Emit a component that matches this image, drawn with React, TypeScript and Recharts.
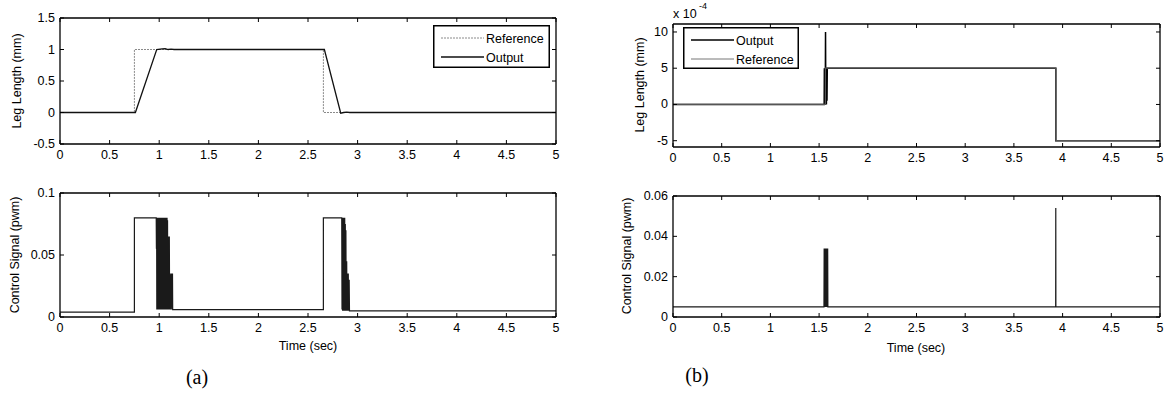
import React from 'react';
import { LineChart, Line, XAxis, YAxis, Legend } from 'recharts';

const FONT = '"Liberation Sans", Arial, Helvetica, sans-serif';
const SERIF = '"Liberation Serif", "Times New Roman", serif';

// ---------- tick labels ----------
const timeTicks = [0, 0.5, 1, 1.5, 2, 2.5, 3, 3.5, 4, 4.5, 5];
const legTicksA = [-0.5, 0, 0.5, 1, 1.5];
const ctrlTicksA = [0, 0.05, 0.1];
const legTicksB = [-5e-4, 0, 5e-4, 10e-4];
const ctrlTicksB = [0, 0.02, 0.04, 0.06];

type P = { t: number; y: number };
const pts = (a: number[][]): P[] => a.map(([t, y]) => ({ t, y }));

// ---------- (a) leg length ----------
const referenceA = pts([
  [0, 0], [0.75, 0], [0.75, 1], [2.655, 1], [2.655, 0], [5, 0],
]);
const outputA = pts([
  [0, 0], [0.76, 0], [0.975, 1], [1.03, 1.01], [1.06, 1.015], [1.09, 1.0],
  [1.12, 1.005], [1.15, 1], [2.665, 1], [2.83, -0.01], [2.86, 0], [2.89, 0.005],
  [2.92, 0], [5, 0],
]);

// ---------- (a) control signal ----------
const controlA = pts([
  [0, 0.004], [0.75, 0.004], [0.75, 0.08], [0.97, 0.08],
  [0.972, 0.055], [0.974, 0.08], [0.976, 0.006], [0.979, 0.08], [0.981, 0.006],
  [0.984, 0.08], [0.986, 0.006], [0.989, 0.08], [0.991, 0.03], [0.994, 0.08],
  [0.996, 0.006], [0.999, 0.08], [1.001, 0.006], [1.004, 0.08], [1.006, 0.006],
  [1.009, 0.08], [1.011, 0.006], [1.014, 0.08], [1.016, 0.006], [1.019, 0.08],
  [1.021, 0.006], [1.024, 0.08], [1.026, 0.006], [1.029, 0.08], [1.031, 0.006],
  [1.034, 0.08], [1.036, 0.006], [1.039, 0.08], [1.041, 0.006], [1.044, 0.08],
  [1.046, 0.006], [1.049, 0.08], [1.051, 0.006], [1.054, 0.08], [1.056, 0.006],
  [1.059, 0.08], [1.061, 0.006], [1.064, 0.08], [1.066, 0.006], [1.069, 0.08],
  [1.071, 0.02], [1.074, 0.08], [1.076, 0.006], [1.079, 0.08], [1.081, 0.025],
  [1.084, 0.078], [1.086, 0.006], [1.089, 0.065], [1.091, 0.006], [1.094, 0.065],
  [1.097, 0.006], [1.102, 0.065], [1.105, 0.006], [1.112, 0.035], [1.115, 0.006],
  [1.125, 0.035], [1.128, 0.006], [1.134, 0.035], [1.136, 0.006],
  [2.655, 0.006], [2.655, 0.08], [2.84, 0.08],
  [2.843, 0.006], [2.846, 0.08], [2.849, 0.005], [2.852, 0.08], [2.855, 0.005],
  [2.858, 0.08], [2.861, 0.005], [2.864, 0.08], [2.867, 0.005], [2.87, 0.08],
  [2.873, 0.005], [2.876, 0.075], [2.879, 0.005], [2.882, 0.07], [2.885, 0.005],
  [2.89, 0.045], [2.893, 0.005], [2.898, 0.035], [2.901, 0.005], [2.906, 0.035],
  [2.909, 0.005], [2.915, 0.03], [2.918, 0.005], [5, 0.005],
]);

// ---------- (b) leg length ----------
const outputB = pts([
  [0, 0], [1.552, 0], [1.554, 5e-4], [1.557, 0], [1.56, 5e-4], [1.563, 0],
  [1.566, 10e-4], [1.569, 0], [1.572, 5e-4], [1.575, 0], [1.578, 5e-4],
  [1.581, 0.5e-4], [1.584, 5e-4], [3.93, 5e-4], [3.93, -5e-4], [5, -5e-4],
]);
const referenceB = pts([
  [0, 0], [1.565, 0], [1.565, 5e-4], [3.93, 5e-4], [3.93, -5e-4], [5, -5e-4],
]);

// ---------- (b) control signal ----------
const controlB = pts([
  [0, 0.005], [1.55, 0.005], [1.552, 0.034], [1.554, 0.005], [1.556, 0.034],
  [1.558, 0.005], [1.56, 0.034], [1.562, 0.005], [1.564, 0.034], [1.566, 0.005],
  [1.568, 0.034], [1.57, 0.005], [1.572, 0.034], [1.574, 0.005], [1.576, 0.034],
  [1.578, 0.005], [1.58, 0.034], [1.582, 0.005], [1.584, 0.034], [1.586, 0.005],
  [1.588, 0.034], [1.59, 0.005], [3.929, 0.005], [3.93, 0.054], [3.931, 0.005],
  [5, 0.005],
]);

// ---------- helpers ----------
const TL = 4; // inward tick length
const FS = 12.5;

const fmtPlain = (v: number) => String(Math.round(v * 1000) / 1000);
const fmtE4 = (v: number) => String(Math.round(v * 1e4));

const BottomTick = (fmt: (v: number) => string) => (props: any) => {
  const { x, y, payload } = props;
  return (
    <g>
      <line x1={x} x2={x} y1={y} y2={y - TL} stroke="#000" strokeWidth={1} />
      <text x={x} y={y + 15} textAnchor="middle" fontSize={FS} fontFamily={FONT} fill="#000">
        {fmt(payload.value)}
      </text>
    </g>
  );
};
const TopTick = (props: any) => {
  const { x, y } = props;
  return <line x1={x} x2={x} y1={y} y2={y + TL} stroke="#000" strokeWidth={1} />;
};
const LeftTick = (fmt: (v: number) => string) => (props: any) => {
  const { x, y, payload } = props;
  return (
    <g>
      <line x1={x} x2={x + TL} y1={y} y2={y} stroke="#000" strokeWidth={1} />
      <text x={x - 5} y={y + 4} textAnchor="end" fontSize={FS} fontFamily={FONT} fill="#000">
        {fmt(payload.value)}
      </text>
    </g>
  );
};
const RightTick = (props: any) => {
  const { x, y } = props;
  return <line x1={x} x2={x - TL} y1={y} y2={y} stroke="#000" strokeWidth={1} />;
};

type Series = { name: string; data: P[]; stroke: string; width: number; dash?: string };
type LegendItem = { name: string; stroke: string; width: number; dash?: string };

type PanelProps = {
  L: number; T: number; W: number; H: number;
  px1: number; py1: number; px2: number; py2: number;
  yDomain: [number, number];
  yTicks: number[];
  yFmt: (v: number) => string;
  series: Series[];
  legend?: { x: number; y: number; w: number; h: number; items: LegendItem[] };
};

const axisLine = { stroke: '#000', strokeWidth: 1.3 };

function LegendBox({ w, h, items }: { w: number; h: number; items: LegendItem[] }) {
  return (
    <svg width={w} height={h} style={{ display: 'block' }}>
      <rect x={0.75} y={0.75} width={w - 1.5} height={h - 1.5} fill="#fff" stroke="#000" strokeWidth={1.5} />
      {items.map((it, i) => {
        const yy = 13 + i * 19;
        return (
          <g key={it.name}>
            <line x1={8} x2={51} y1={yy} y2={yy} stroke={it.stroke} strokeWidth={it.width} strokeDasharray={it.dash} />
            <text x={53} y={yy + 4.5} fontSize={FS} fontFamily={FONT} fill="#000">{it.name}</text>
          </g>
        );
      })}
    </svg>
  );
}

function Panel(p: PanelProps) {
  // top x-axis occupies 1px above the plot, right y-axis 1px to its right
  const margin = { top: p.py1 - p.T - 1, left: 0, right: p.L + p.W - p.px2 - 1, bottom: 0 };
  const yW = p.px1 - p.L;
  const xH = p.T + p.H - p.py2;
  return (
    <div style={{ position: 'absolute', left: p.L, top: p.T, width: p.W, height: p.H }}>
      <LineChart width={p.W} height={p.H} margin={margin}>
        <XAxis
          xAxisId="b" dataKey="t" type="number" domain={[0, 5]} ticks={timeTicks}
          allowDataOverflow interval={0} height={xH} orientation="bottom"
          tickLine={false} tickSize={0} tickMargin={0} axisLine={axisLine}
          tick={BottomTick(fmtPlain)}
        />
        <XAxis
          xAxisId="t" dataKey="t" type="number" domain={[0, 5]} ticks={timeTicks}
          allowDataOverflow interval={0} height={1} orientation="top"
          tickLine={false} tickSize={0} tickMargin={0} axisLine={axisLine}
          tick={TopTick}
        />
        <YAxis
          yAxisId="l" type="number" domain={p.yDomain} ticks={p.yTicks}
          allowDataOverflow interval={0} width={yW} orientation="left"
          tickLine={false} tickSize={0} tickMargin={0} axisLine={axisLine}
          tick={LeftTick(p.yFmt)}
        />
        <YAxis
          yAxisId="r" type="number" domain={p.yDomain} ticks={p.yTicks}
          allowDataOverflow interval={0} width={1} orientation="right"
          tickLine={false} tickSize={0} tickMargin={0} axisLine={axisLine}
          tick={RightTick}
        />
        {p.series.map((s) => (
          <Line
            key={s.name}
            xAxisId="b" yAxisId="l"
            data={s.data} dataKey="y" name={s.name} type="linear"
            stroke={s.stroke} strokeWidth={s.width} strokeDasharray={s.dash}
            dot={false} activeDot={false} isAnimationActive={false}
          />
        ))}
        {p.legend && (
          <Legend
            layout="horizontal" verticalAlign="middle" align="center"
            wrapperStyle={{ position: 'absolute', left: p.legend.x - p.L, top: p.legend.y - p.T, width: p.legend.w, height: p.legend.h, margin: 0, padding: 0 }}
            content={() => <LegendBox w={p.legend!.w} h={p.legend!.h} items={p.legend!.items} />}
          />
        )}
      </LineChart>
    </div>
  );
}

const REF_STYLE = { stroke: '#8a8a8a', width: 1, dash: '2 1' };
const OUT_STYLE = { stroke: '#111', width: 1.3 };

export default function App() {
  const txt = { fontFamily: FONT, fontSize: FS, fill: '#000' } as const;
  return (
    <div style={{ position: 'absolute', left: 0, top: 0, width: 1164, height: 396, background: '#fff', overflow: 'hidden' }}>
      <Panel
        L={0} T={0} W={580} H={175} px1={60} py1={18} px2={556} py2={144}
        yDomain={[-0.5, 1.5]} yTicks={legTicksA} yFmt={fmtPlain}
        series={[
          { name: 'Reference', data: referenceA, ...REF_STYLE },
          { name: 'Output', data: outputA, ...OUT_STYLE },
        ]}
        legend={{ x: 433, y: 25, w: 117, h: 43, items: [
          { name: 'Reference', ...REF_STYLE },
          { name: 'Output', ...OUT_STYLE },
        ] }}
      />
      <Panel
        L={0} T={175} W={580} H={221} px1={60} py1={193} px2={556} py2={317}
        yDomain={[0, 0.1]} yTicks={ctrlTicksA} yFmt={fmtPlain}
        series={[{ name: 'Control', data: controlA, stroke: '#1a1a1a', width: 1.2 }]}
      />
      <Panel
        L={600} T={0} W={564} H={175} px1={673} py1={24} px2={1160} py2={147}
        yDomain={[-5.87e-4, 11.1e-4]} yTicks={legTicksB} yFmt={fmtE4}
        series={[
          { name: 'Output', data: outputB, stroke: '#000', width: 1.5 },
          { name: 'Reference', data: referenceB, stroke: '#555', width: 1.2 },
        ]}
        legend={{ x: 683, y: 27, w: 116, h: 42, items: [
          { name: 'Output', stroke: '#000', width: 1.5 },
          { name: 'Reference', stroke: '#777', width: 1 },
        ] }}
      />
      <Panel
        L={600} T={175} W={564} H={221} px1={673} py1={196} px2={1160} py2={317}
        yDomain={[0, 0.06]} yTicks={ctrlTicksB} yFmt={fmtPlain}
        series={[{ name: 'Control', data: controlB, stroke: '#1a1a1a', width: 1.2 }]}
      />
      <svg width={1164} height={396} style={{ position: 'absolute', left: 0, top: 0, pointerEvents: 'none' }}>
        <text {...txt} textAnchor="middle" dominantBaseline="central" transform="translate(17,81) rotate(-90)">Leg Length (mm)</text>
        <text {...txt} textAnchor="middle" dominantBaseline="central" transform="translate(15,255) rotate(-90)">Control Signal (pwm)</text>
        <text {...txt} textAnchor="middle" x={308} y={350}>Time (sec)</text>
        <text x={197} y={384} textAnchor="middle" fontFamily={SERIF} fontSize={20} fill="#000">(a)</text>

        <text {...txt} textAnchor="middle" dominantBaseline="central" transform="translate(640,85) rotate(-90)">Leg Length (mm)</text>
        <text {...txt} textAnchor="middle" dominantBaseline="central" transform="translate(627,256) rotate(-90)">Control Signal (pwm)</text>
        <text {...txt} textAnchor="middle" x={916} y={352}>Time (sec)</text>
        <text x={697} y={382} textAnchor="middle" fontFamily={SERIF} fontSize={20} fill="#000">(b)</text>
        <text {...txt} x={673} y={18}>x 10</text>
        <text {...txt} fontSize={9} x={699} y={9}>-4</text>
      </svg>
    </div>
  );
}
